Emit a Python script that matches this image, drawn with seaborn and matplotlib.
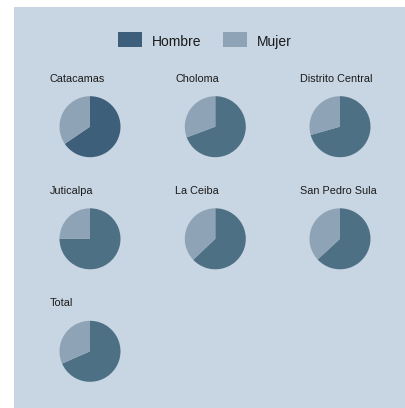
import matplotlib
matplotlib.use("Agg")
import matplotlib.pyplot as plt
import seaborn as sns
from matplotlib.patches import Rectangle

# ---- data ----
regions = ["Catacamas", "Choloma", "Distrito Central", "Juticalpa",
           "La Ceiba", "San Pedro Sula", "Total"]
hombre = [65.5, 69.3, 70.6, 75.0, 62.9, 63.1, 68.4]
mujer = [100 - h for h in hombre]
series = ["Hombre", "Mujer"]

# ---- style ----
sns.set_style("white")
plt.rcParams["font.family"] = ["Liberation Sans", "DejaVu Sans"]
bg = "#c8d5e2"
pal = sns.color_palette(["#3d5f7b", "#8ea3b6"])
hombre_pie = ["#3e5f7a", "#4e7084", "#4e7084", "#4e7084", "#4e7084", "#4e7084", "#4e7084"]

W, H = 406, 408
fig = plt.figure(figsize=(W / 100, H / 100), dpi=100)
fig.patch.set_facecolor("white")

def fx(px):
    return px / W

def fy(py):
    return 1 - py / H

# background panel
fig.patches.append(Rectangle((fx(14), 0), 1 - fx(14), fy(7), transform=fig.transFigure,
                             facecolor=bg, edgecolor="none", zorder=-5))

# legend
legend_items = [(118, 151.7), (223, 256.7)]
for (px, tx), lab, col in zip(legend_items, series, pal):
    fig.patches.append(Rectangle((fx(px), fy(46.7)), fx(24.5), (14.4) / H,
                                 transform=fig.transFigure, facecolor=col,
                                 edgecolor="none", zorder=1))
    fig.text(fx(tx), fy(45.7), lab, fontsize=10, va="baseline", ha="left", color="#1a1a1a")

col_c = [90, 215.3, 340]
row_c = [126.7, 238.8, 351.3]
r = 30.5
for i, name in enumerate(regions):
    cx = col_c[i % 3]
    cy = row_c[i // 3]
    ax = fig.add_axes([fx(cx - r), fy(cy + r), 2 * r / W, 2 * r / H])
    ax.set_zorder(2)
    ax.pie([hombre[i], mujer[i]], colors=[hombre_pie[i], pal[1]], startangle=90,
           counterclock=False, radius=1, wedgeprops=dict(linewidth=0))
    ax.set_xlim(-1, 1)
    ax.set_ylim(-1, 1)
    ax.set_aspect("equal")
    ax.axis("off")
    fig.text(fx(cx - 40), fy(cy - 45), name, fontsize=7.8, va="baseline",
             ha="left", color="#1a1a1a")

fig.savefig("out.png", dpi=100, facecolor="white")
